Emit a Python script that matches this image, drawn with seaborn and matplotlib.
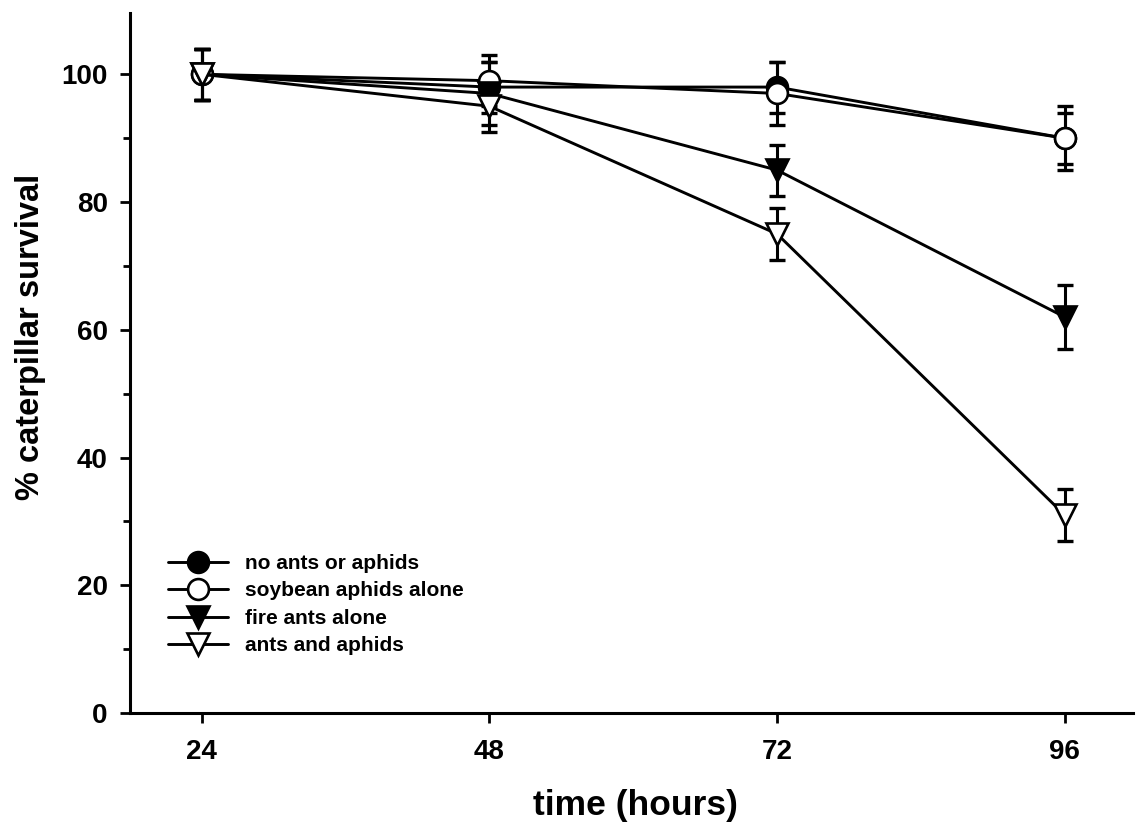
import matplotlib
matplotlib.use("Agg")
import matplotlib.pyplot as plt
import seaborn as sns
import pandas as pd
from matplotlib.lines import Line2D
from matplotlib.ticker import MultipleLocator

hours = [24, 48, 72, 96]

series_names = ["no ants or aphids", "soybean aphids alone", "fire ants alone", "ants and aphids"]
no_ants_or_aphids = [100, 98, 98, 90]
soybean_aphids_alone = [100, 99, 97, 90]
fire_ants_alone = [100, 97, 85, 62]
ants_and_aphids = [100, 95, 75, 31]

no_ants_or_aphids_err = [4, 4, 4, 5]
soybean_aphids_alone_err = [4, 4, 5, 4]
fire_ants_alone_err = [4, 5, 4, 5]
ants_and_aphids_err = [4, 4, 4, 4]

values = [no_ants_or_aphids, soybean_aphids_alone, fire_ants_alone, ants_and_aphids]
errors = [no_ants_or_aphids_err, soybean_aphids_alone_err, fire_ants_alone_err, ants_and_aphids_err]
markers = ["o", "o", "v", "v"]
faces = ["black", "white", "black", "white"]

sns.set_style("ticks")
plt.rcParams["font.family"] = ["Liberation Sans", "DejaVu Sans"]
plt.rcParams["font.weight"] = "bold"
for key in ["text.color", "axes.labelcolor", "xtick.color", "ytick.color", "axes.edgecolor"]:
    plt.rcParams[key] = "black"

fig = plt.figure(figsize=(11.41, 8.27), dpi=100)
ax = fig.add_axes([0.1139, 0.1378, 0.8791, 0.8465])

frames = []
for name, vals, errs in zip(series_names, values, errors):
    frames.append(pd.DataFrame({"time": hours, "survival": vals, "err": errs, "group": name}))
df = pd.concat(frames, ignore_index=True)

lw = 2.1
for i, (name, mk, fc) in enumerate(zip(series_names, markers, faces)):
    sub = df[df["group"] == name]
    ax.errorbar(sub["time"], sub["survival"], yerr=sub["err"], fmt="none",
                ecolor="black", elinewidth=2.2, capsize=6, capthick=2.4, zorder=2 + i * 0.1)
    sns.lineplot(data=sub, x="time", y="survival", ax=ax, color="black", linewidth=lw,
                 marker=mk, markersize=15 if mk == "o" else 16, markerfacecolor=fc,
                 markeredgecolor="black", markeredgewidth=1.9, zorder=3 + i * 0.1,
                 legend=False)

ax.set_xlim(18, 101.7)
ax.set_ylim(0, 109.6)
ax.set_xticks(hours)
ax.yaxis.set_major_locator(MultipleLocator(20))
ax.yaxis.set_minor_locator(MultipleLocator(10))
ax.tick_params(axis="both", which="major", direction="out", length=7, width=2, labelsize=20, pad=9)
ax.tick_params(axis="y", which="minor", direction="out", length=5, width=2)
ax.tick_params(axis="x", which="major", pad=12)
for lab in ax.get_xticklabels() + ax.get_yticklabels():
    lab.set_fontweight("bold")

for side in ["top", "right"]:
    ax.spines[side].set_visible(False)
for side in ["left", "bottom"]:
    ax.spines[side].set_linewidth(2.2)

ax.set_xlabel("time (hours)", fontsize=25.5, fontweight="bold")
ax.set_ylabel("% caterpillar survival", fontsize=23.5, fontweight="bold")
ax.xaxis.set_label_coords(0.5035, -0.108)
ax.yaxis.set_label_coords(-0.0835, 0.537)

handles = [Line2D([], [], color="black", linewidth=lw, marker=mk, markersize=15 if mk == "o" else 16,
                  markerfacecolor=fc, markeredgecolor="black", markeredgewidth=1.9)
           for mk, fc in zip(markers, faces)]
leg = ax.legend(handles, series_names, loc="upper left", bbox_to_anchor=(0.038, 0.227),
                frameon=False, handlelength=2.9, handletextpad=0.8, labelspacing=0.4,
                borderpad=0, borderaxespad=0, prop={"size": 15, "weight": "bold"})

fig.savefig("out.png", dpi=100)
